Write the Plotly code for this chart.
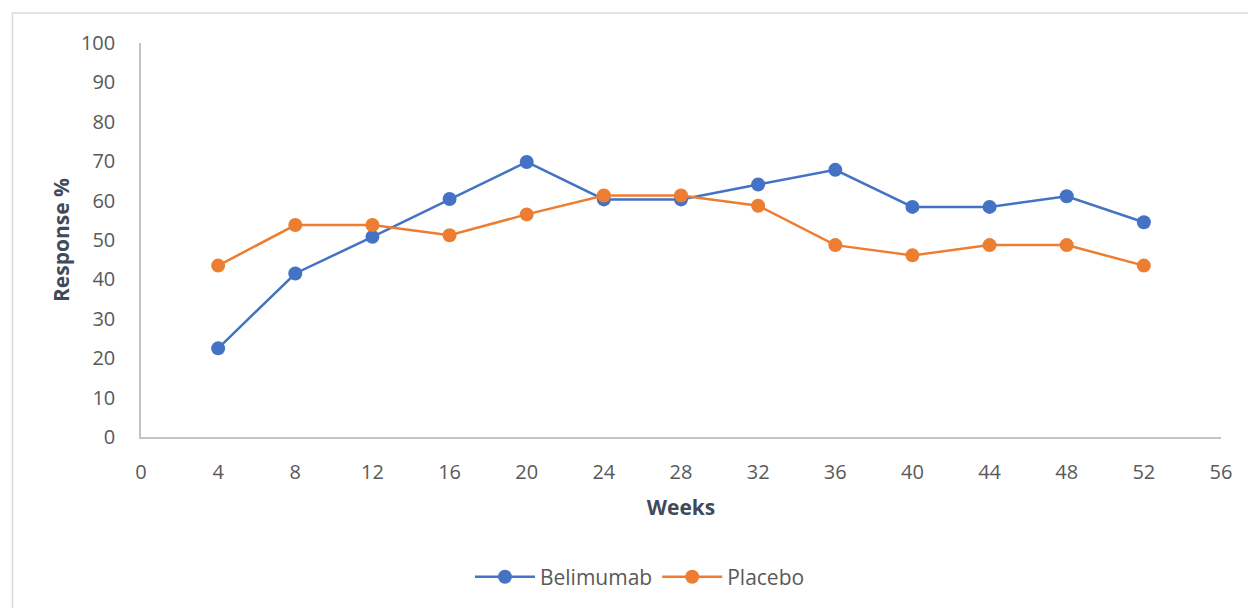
import plotly.graph_objects as go

weeks = [4, 8, 12, 16, 20, 24, 28, 32, 36, 40, 44, 48, 52]
belimumab = [22.5, 41.5, 50.8, 60.4, 69.8, 60.3, 60.3, 64.1, 67.8, 58.4, 58.4, 61.1, 54.5]
placebo = [43.5, 53.8, 53.8, 51.2, 56.5, 61.3, 61.3, 58.7, 48.7, 46.1, 48.7, 48.7, 43.5]
x_ticks = list(range(0, 57, 4))
y_ticks = list(range(0, 101, 10))

FONT = "Open Sans, Noto Sans, sans-serif"
TICK_COLOR = "#595959"
TITLE_COLOR = "#404a5a"

fig = go.Figure()
fig.add_trace(go.Scatter(
    x=weeks, y=belimumab, name="Belimumab", mode="lines+markers",
    line=dict(color="#4472C4", width=2.5),
    marker=dict(color="#4472C4", size=14),
))
fig.add_trace(go.Scatter(
    x=weeks, y=placebo, name="Placebo", mode="lines+markers",
    line=dict(color="#ED7D31", width=2.5),
    marker=dict(color="#ED7D31", size=14),
))

fig.update_layout(
    width=1248, height=608,
    margin=dict(l=141, r=27, t=43, b=170),
    paper_bgcolor="white", plot_bgcolor="white",
    font=dict(family=FONT, color=TICK_COLOR, size=20),
    showlegend=True,
    legend=dict(
        orientation="h", x=0.462, xanchor="center", y=-0.352, yanchor="middle",
        font=dict(size=21, color=TICK_COLOR), itemwidth=60,
    ),
    shapes=[dict(
        type="rect", xref="paper", yref="paper",
        x0=-0.119, x1=1.05, y0=-0.5, y1=1.076,
        line=dict(color="#d9d9d9", width=1.5), layer="below",
    )],
)

fig.update_xaxes(
    range=[0, 56], tickvals=x_ticks, showgrid=False, zeroline=False,
    showline=True, linecolor="#bfc5cc", linewidth=1.5,
    ticks="", ticklabelstandoff=16,
    tickfont=dict(size=20, color=TICK_COLOR),
    title=dict(text="<b>Weeks</b>", font=dict(size=21, color=TITLE_COLOR), standoff=17),
)
fig.update_yaxes(
    range=[0, 100], tickvals=y_ticks, showgrid=False, zeroline=False,
    showline=True, linecolor="#bfc5cc", linewidth=1.5,
    ticks="", ticklabelstandoff=20,
    tickfont=dict(size=20, color=TICK_COLOR),
    title=dict(text="<b>Response %</b>", font=dict(size=21, color=TITLE_COLOR), standoff=6),
)

fig.write_html("out.html")
